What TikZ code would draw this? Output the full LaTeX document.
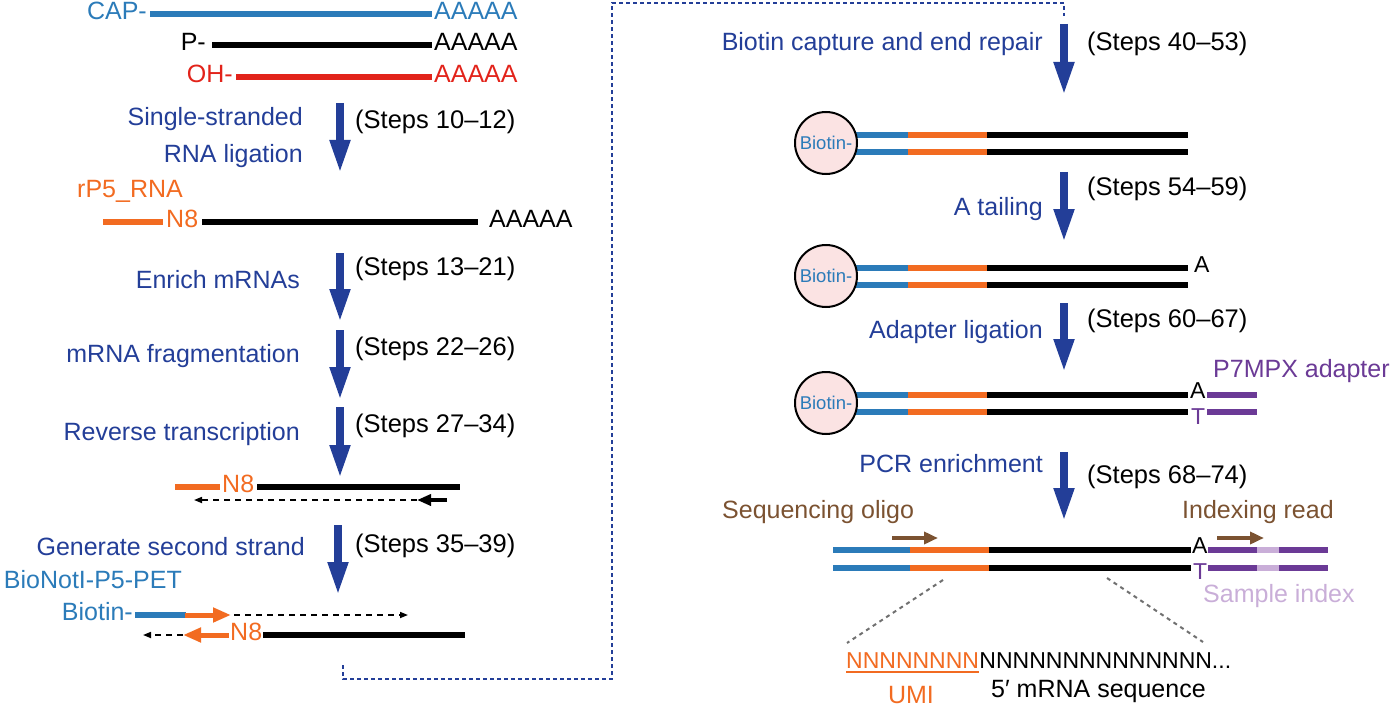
\documentclass[tikz,border=0pt]{standalone}
\usepackage{fontspec}
\setmainfont{Liberation Sans}
\usetikzlibrary{arrows.meta}
\definecolor{dkblue}{HTML}{233E98}
\definecolor{ltblue}{HTML}{2B7BB9}
\definecolor{rnared}{HTML}{E2231A}
\definecolor{orng}{HTML}{F26B21}
\definecolor{purp}{HTML}{6B3A96}
\definecolor{ltpurp}{HTML}{C9AED8}
\definecolor{brwn}{HTML}{7B5231}
\definecolor{pinkfill}{HTML}{FBE3E3}
\definecolor{grayd}{HTML}{707070}
\begin{document}
\begin{tikzpicture}[x=1pt,y=-1pt,
  steptxt/.style={inner sep=0pt,font=\fontsize{25.5}{30}\selectfont,anchor=mid west,yshift=-3pt},
  lbl/.style={inner sep=0pt,font=\fontsize{25}{29}\selectfont,text=dkblue,anchor=mid east,yshift=-3pt},
  mol/.style={inner sep=0pt,font=\fontsize{25}{29}\selectfont,yshift=-3pt},
  base/.style={inner sep=0pt,font=\fontsize{23}{26}\selectfont,anchor=mid west,yshift=-3pt},
  strand/.style={line width=6pt},
  dstrand/.style={line width=5.5pt},
  bigarrow/.style={draw=dkblue,line width=7.5pt,-{Triangle[width=19pt,length=33pt]}},
  dasharrow/.style={line width=1.6pt,dash pattern=on 6pt off 5pt,-{Triangle[width=6pt,length=8pt]}},
  primer/.style={line width=5pt,-{Triangle[width=14pt,length=18pt]}},
  brarrow/.style={draw=brwn,line width=4pt,-{Triangle[width=12pt,length=14pt]}},
  bead/.style={circle,draw=black,line width=2pt,fill=pinkfill,minimum size=62pt,inner sep=0pt,text=ltblue,font=\fontsize{18.5}{21}\selectfont},
  dotline/.style={draw=dkblue,line width=2pt,dash pattern=on 4pt off 3pt},
  zoomline/.style={draw=grayd,line width=2pt,dash pattern=on 4pt off 4pt}
]
\useasboundingbox (0,0) rectangle (1395,706);

% ---------- left column: input RNAs ----------
\node[mol,text=ltblue,anchor=mid east] (cap) at (147,14) {CAP-};
\draw[strand,ltblue] (150,14) -- (432,14);
\node[mol,text=ltblue,anchor=mid west] (capA) at (434,14) {AAAAA};
\node[mol,anchor=mid east] (p) at (206,45) {P-};
\draw[strand,black] (212,45) -- (432,45);
\node[mol,anchor=mid west] (pA) at (434,45) {AAAAA};
\node[mol,text=rnared,anchor=mid east] (oh) at (233,77) {OH-};
\draw[strand,rnared] (236,77) -- (432,77);
\node[mol,text=rnared,anchor=mid west] (ohA) at (434,77) {AAAAA};

% arrow 1
\coordinate (a1s) at (340,103); \coordinate (a1e) at (340,173);
\draw[bigarrow] (a1s) -- (a1e);
\node[lbl] (l1a) at (303,120) {Single-stranded};
\node[lbl] (l1b) at (303,157) {RNA ligation};
\node[steptxt] (s1) at (355,123) {(Steps 10–12)};

% ligated product
\node[mol,text=orng,anchor=mid west] (rp5) at (77,192) {rP5\_RNA};
\draw[strand,orng] (103,222) -- (163,222);
\node[mol,text=orng,anchor=mid west] (n8a) at (166,222) {N8};
\draw[strand,black] (202,222) -- (478,222);
\node[mol,anchor=mid west] (ligA) at (489,222) {AAAAA};

% arrows 2-4
\coordinate (a2s) at (340,253); \coordinate (a2e) at (340,322);
\draw[bigarrow] (a2s) -- (a2e);
\node[lbl] (l2) at (300,283) {Enrich mRNAs};
\node[steptxt] (s2) at (355,270) {(Steps 13–21)};
\coordinate (a3s) at (340,330); \coordinate (a3e) at (340,400);
\draw[bigarrow] (a3s) -- (a3e);
\node[lbl] (l3) at (300,357) {mRNA fragmentation};
\node[steptxt] (s3) at (355,350) {(Steps 22–26)};
\coordinate (a4s) at (340,407); \coordinate (a4e) at (340,478);
\draw[bigarrow] (a4s) -- (a4e);
\node[lbl] (l4) at (300,435) {Reverse transcription};
\node[steptxt] (s4) at (355,427) {(Steps 27–34)};

% RT product
\draw[strand,orng] (175,487) -- (220,487);
\node[mol,text=orng,anchor=mid west] (n8b) at (222,487) {N8};
\draw[strand,black] (257,487) -- (460,487);
\coordinate (rtA) at (447,500); \coordinate (rtB) at (417,500); \coordinate (rtC) at (194,500);
\draw[dasharrow,black] (rtB) -- (rtC);
\draw[line width=3.5pt,-{Triangle[width=11pt,length=14pt]}] (rtA) -- (rtB);

% arrow 5
\coordinate (a5s) at (338,525); \coordinate (a5e) at (338,595);
\draw[bigarrow] (a5s) -- (a5e);
\node[lbl] (l5) at (305,550) {Generate second strand};
\node[steptxt] (s5) at (355,547) {(Steps 35–39)};

% second strand
\node[mol,text=ltblue,anchor=mid east] (bionot) at (182,583) {BioNotI-P5-PET};
\node[mol,text=ltblue,anchor=mid east] (biot) at (133,615) {Biotin-};
\draw[strand,ltblue] (135,615) -- (186,615);
\coordinate (o1s) at (185,615); \coordinate (o1e) at (231,615);
\draw[primer,orng] (o1s) -- (o1e);
\coordinate (d1s) at (234,615); \coordinate (d1e) at (408,615);
\draw[dasharrow,black] (d1s) -- (d1e);
\coordinate (o2s) at (229,635); \coordinate (o2e) at (183,635);
\draw[primer,orng] (o2s) -- (o2e);
\coordinate (d2s) at (183,635); \coordinate (d2e) at (143,635);
\draw[dasharrow,black] (d2s) -- (d2e);
\node[mol,text=orng,anchor=mid west] (n8c) at (230,635) {N8};
\draw[strand,black] (263,635) -- (465,635);

% dotted connector between columns
\coordinate (c1) at (343,665); \coordinate (c2) at (343,679); \coordinate (c3) at (612,679);
\coordinate (c4) at (612,3); \coordinate (c5) at (1064,3); \coordinate (c6) at (1064,16);
\draw[dotline] (c1) -- (c2) -- (c3) -- (c4) -- (c5) -- (c6);

% ---------- right column ----------
\coordinate (b1s) at (1064,24); \coordinate (b1e) at (1064,95);
\draw[bigarrow] (b1s) -- (b1e);
\node[lbl] (r1) at (1043,45) {Biotin capture and end repair};
\node[steptxt] (t1) at (1087,45) {(Steps 40–53)};

% double strand 1
\foreach \yy in {135,152}{
  \draw[dstrand,ltblue] (856,\yy) -- (909,\yy);
  \draw[dstrand,orng] (908,\yy) -- (988,\yy);
  \draw[dstrand,black] (987,\yy) -- (1188,\yy);
}
\node[bead] (bead1) at (826,143) {Biotin-};

\coordinate (b2s) at (1064,172); \coordinate (b2e) at (1064,242);
\draw[bigarrow] (b2s) -- (b2e);
\node[lbl] (r2) at (1043,210) {A tailing};
\node[steptxt] (t2) at (1087,190) {(Steps 54–59)};

% double strand 2
\foreach \yy in {268,285}{
  \draw[dstrand,ltblue] (856,\yy) -- (909,\yy);
  \draw[dstrand,orng] (908,\yy) -- (988,\yy);
  \draw[dstrand,black] (987,\yy) -- (1188,\yy);
}
\node[bead] (bead2) at (826,276) {Biotin-};
\node[base] (aT2) at (1194,267) {A};

\coordinate (b3s) at (1064,303); \coordinate (b3e) at (1064,372);
\draw[bigarrow] (b3s) -- (b3e);
\node[lbl] (r3) at (1043,333) {Adapter ligation};
\node[steptxt] (t3) at (1087,322) {(Steps 60–67)};

% double strand 3
\foreach \yy in {395,412}{
  \draw[dstrand,ltblue] (856,\yy) -- (909,\yy);
  \draw[dstrand,orng] (908,\yy) -- (988,\yy);
  \draw[dstrand,black] (987,\yy) -- (1188,\yy);
  \draw[dstrand,purp] (1207,\yy) -- (1257,\yy);
}
\node[bead] (bead3) at (826,403) {Biotin-};
\node[base] (aT3) at (1190,393) {A};
\node[base,text=purp] (tT3) at (1191,419) {T};
\node[mol,text=purp,anchor=mid west] (p7) at (1213,372) {P7MPX adapter};

\coordinate (b4s) at (1064,452); \coordinate (b4e) at (1064,521);
\draw[bigarrow] (b4s) -- (b4e);
\node[lbl] (r4) at (1043,467) {PCR enrichment};
\node[steptxt] (t4) at (1087,478) {(Steps 68–74)};

% PCR product
\node[mol,text=brwn,anchor=mid west] (seqo) at (722,513) {Sequencing oligo};
\coordinate (sa1) at (892,538); \coordinate (sa2) at (938,538);
\draw[brarrow] (sa1) -- (sa2);
\node[mol,text=brwn,anchor=mid west] (idx) at (1182,513) {Indexing read};
\coordinate (ia1) at (1217,538); \coordinate (ia2) at (1264,538);
\draw[brarrow] (ia1) -- (ia2);
\foreach \yy in {550,568}{
  \draw[dstrand,ltblue] (833,\yy) -- (911,\yy);
  \draw[dstrand,orng] (910,\yy) -- (990,\yy);
  \draw[dstrand,black] (989,\yy) -- (1191,\yy);
  \draw[dstrand,purp] (1208,\yy) -- (1258,\yy);
  \draw[dstrand,ltpurp] (1257,\yy) -- (1280,\yy);
  \draw[dstrand,purp] (1279,\yy) -- (1328,\yy);
}
\node[base] (aT4) at (1192,548) {A};
\node[base,text=purp] (tT4) at (1193,574) {T};
\node[mol,text=ltpurp,anchor=mid west] (sidx) at (1203,597) {Sample index};

% zoom-in lines
\coordinate (z1a) at (943,580); \coordinate (z1b) at (847,643);
\coordinate (z2a) at (1107,578); \coordinate (z2b) at (1203,642);
\draw[zoomline] (z1a) -- (z1b);
\draw[zoomline] (z2a) -- (z2b);

% sequence
\node[mol,text=orng,anchor=mid west,font=\fontsize{23}{27}\selectfont] (umiN) at (846,663) {NNNNNNNN};
\draw[orng,line width=2pt] ([yshift=-3pt]umiN.south west) -- ([yshift=-3pt]umiN.south east);
\node[mol,anchor=mid west,font=\fontsize{23}{27}\selectfont,yshift=3pt] (mrnaN) at (umiN.mid east) {NNNNNNNNNNNNNN...};
\node[mol,text=orng] (umi) at (911,692) {UMI};
\node[mol,anchor=mid west] (mseq) at (991,692) {5′ mRNA sequence};
\end{tikzpicture}
\end{document}
